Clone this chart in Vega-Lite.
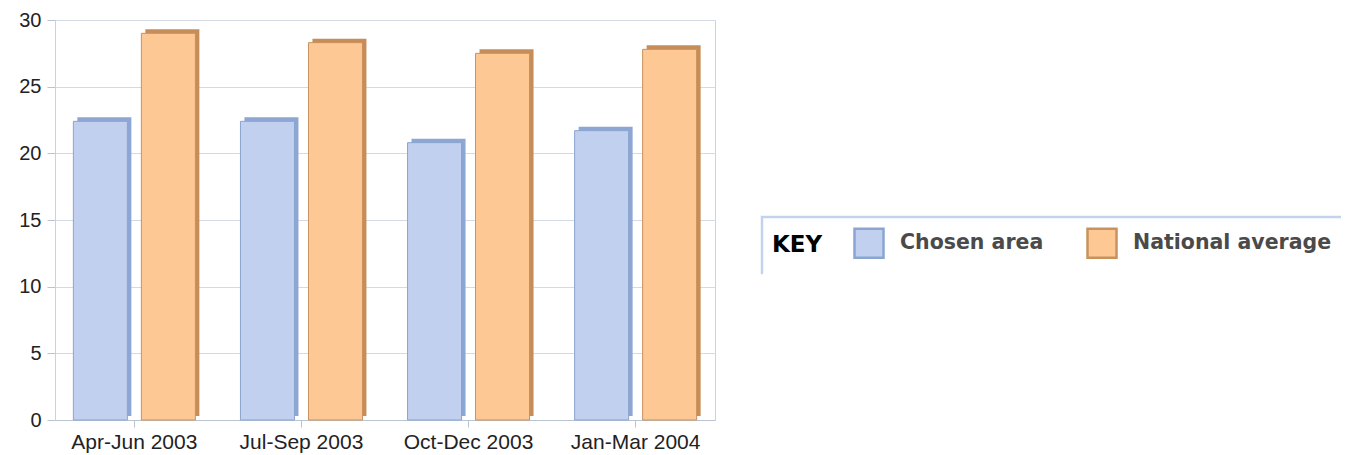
{
  "$schema": "https://vega.github.io/schema/vega-lite/v6.json",
  "autosize": "none",
  "padding": {"left": 55, "top": 20, "right": 634, "bottom": 35},
  "width": 660,
  "height": 400,
  "background": "white",
  "data": {
    "values": [
      {"period": "Apr-Jun 2003", "series": "Chosen area", "value": 22.4},
      {"period": "Apr-Jun 2003", "series": "National average", "value": 29.0},
      {"period": "Jul-Sep 2003", "series": "Chosen area", "value": 22.4},
      {"period": "Jul-Sep 2003", "series": "National average", "value": 28.3},
      {"period": "Oct-Dec 2003", "series": "Chosen area", "value": 20.8},
      {"period": "Oct-Dec 2003", "series": "National average", "value": 27.5},
      {"period": "Jan-Mar 2004", "series": "Chosen area", "value": 21.7},
      {"period": "Jan-Mar 2004", "series": "National average", "value": 27.8}
    ]
  },
  "encoding": {
    "x": {
      "field": "period", "type": "nominal", "sort": null,
      "scale": {"paddingInner": 0.27, "paddingOuter": 0.11},
      "axis": {
        "title": null, "labelAngle": 0, "labelFont": "Liberation Sans", "labelFontSize": 21,
        "labelColor": "#222222", "labelPadding": 4, "tickSize": 7, "tickColor": "#b9c3d2",
        "domainColor": "#b9c3d2", "grid": false
      }
    },
    "y": {
      "field": "value", "type": "quantitative",
      "scale": {"domain": [0, 30], "nice": false},
      "axis": {
        "title": null, "values": [0, 5, 10, 15, 20, 25, 30], "labelFont": "Liberation Sans",
        "labelFontSize": 20, "labelColor": "#222222", "labelPadding": 6, "tickSize": 8,
        "tickColor": "#b9c3d2", "domainColor": "#c5d2e8", "gridColor": "#d3dae5", "grid": true
      }
    }
  },
  "layer": [
    {
      "transform": [{"filter": "datum.series === 'Chosen area'"}],
      "mark": {"type": "bar", "width": 54, "xOffset": -30, "yOffset": -4, "color": "#8ea6d3"}
    },
    {
      "transform": [{"filter": "datum.series === 'National average'"}],
      "mark": {"type": "bar", "width": 54, "xOffset": 38, "yOffset": -4, "color": "#c78d58"}
    },
    {
      "transform": [{"filter": "datum.series === 'Chosen area'"}],
      "mark": {"type": "bar", "width": 54, "xOffset": -34, "strokeWidth": 1},
      "encoding": {
        "color": {
          "field": "series", "type": "nominal",
          "scale": {"domain": ["Chosen area", "National average"], "range": ["#c1d0ee", "#fec894"]},
          "legend": {
            "title": "KEY", "orient": "none", "legendX": 707, "legendY": 197, "direction": "horizontal",
            "titleOrient": "left", "titleFont": "DejaVu Sans", "titleFontWeight": "bold", "titleFontSize": 23,
            "titleColor": "#000000", "titlePadding": 30, "titleBaseline": "middle",
            "labelFont": "DejaVu Sans", "labelFontWeight": "bold", "labelFontSize": 20.5, "labelColor": "#4a4a4a",
            "labelOffset": 15, "columnPadding": 38, "symbolType": "square", "symbolSize": 841,
            "symbolStrokeWidth": 2.5, "symbolOpacity": 1, "padding": 10, "strokeColor": "#c3d2ee",
            "labelLimit": 400,
            "encode": {"legend": {"update": {"strokeWidth": {"value": 2.5}, "strokeDash": {"value": [579, 636, 80]}}}}
          }
        },
        "stroke": {"field": "series", "type": "nominal", "scale": {"domain": ["Chosen area", "National average"], "range": ["#8aa5cf", "#c8925e"]}}
      }
    },
    {
      "transform": [{"filter": "datum.series === 'National average'"}],
      "mark": {"type": "bar", "width": 54, "xOffset": 34, "strokeWidth": 1},
      "encoding": {
        "color": {"field": "series", "type": "nominal"},
        "stroke": {"field": "series", "type": "nominal"}
      }
    }
  ],
  "config": {
    "view": {"stroke": "#c8d3e6"}
  }
}
